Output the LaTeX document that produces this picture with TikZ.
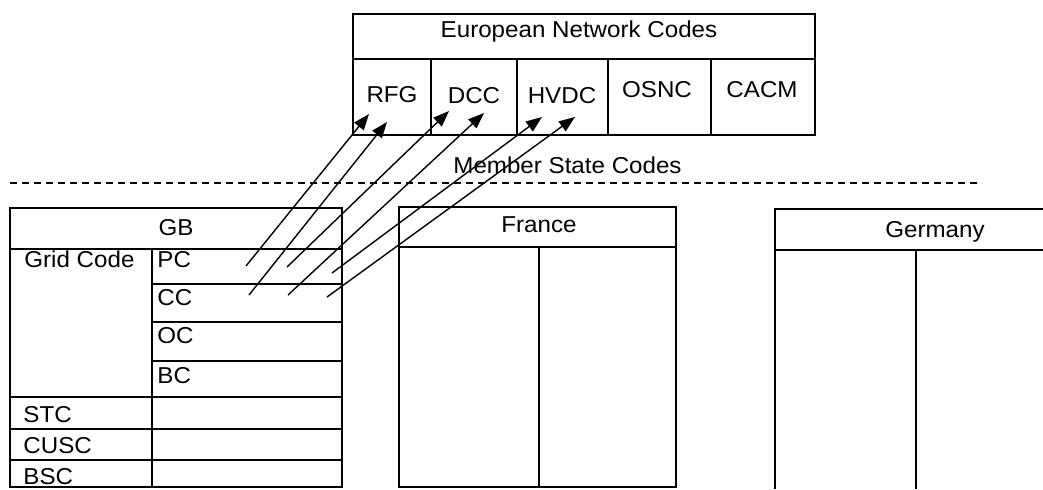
\documentclass[tikz,border=0pt]{standalone}
\usepackage{fontspec}
\setmainfont{Liberation Sans}[FakeStretch=1.05]
\usetikzlibrary{arrows.meta}
\tikzset{
  frame/.style={draw=black,line width=0.8pt},
  lbl/.style={inner sep=0pt,anchor=base,font=\fontsize{11.5}{13}\selectfont},
  lblw/.style={lbl,anchor=base west},
  link/.style={-{Triangle[length=8pt,width=6pt]},line width=0.7pt},
  split/.style={dash pattern=on 3.5pt off 2.5pt,line width=0.65pt}
}
\begin{document}
\begin{tikzpicture}[x=0.5pt,y=-0.5pt]
\path[use as bounding box,fill=white] (0,0) rectangle (1043,489);
% european network codes
\draw[frame] (353,14) rectangle (815,135);
\draw[frame] (353,59) -- (815,59);
\foreach \x in {431,517,608,711} \draw[frame] (\x,59) -- (\x,135);
\node[lbl] (enc) at (579,37) {European Network Codes};
\node[lbl] (rfg) at (392,102) {RFG};
\node[lbl] (dcc) at (474,103) {DCC};
\node[lbl] (hvdc) at (562,103) {HVDC};
\node[lbl] (osnc) at (657,97) {OSNC};
\node[lbl] (cacm) at (762,97) {CACM};
% member state codes
\node[lblw] (msc) at (453,173) {Member State Codes};
\draw[split] (10,183) -- (982,183);
% GB
\draw[frame] (10,208) rectangle (342,487);
\draw[frame] (10,249) -- (342,249);
\draw[frame] (152,249) -- (152,487);
\foreach \y in {284,322,361} \draw[frame] (152,\y) -- (342,\y);
\foreach \y in {397,429,460} \draw[frame] (10,\y) -- (342,\y);
\node[lbl] (gb) at (176,235) {GB};
\node[lblw] (grid) at (24,267) {Grid Code};
\node[lblw] (pc) at (157,267) {PC};
\node[lblw] (cc) at (157,305) {CC};
\node[lblw] (oc) at (157,343) {OC};
\node[lblw] (bc) at (157,383) {BC};
\node[lblw] (stc) at (23,422) {STC};
\node[lblw] (cusc) at (23,453) {CUSC};
\node[lblw] (bsc) at (23,484) {BSC};
% France
\draw[frame] (399,207) rectangle (676,487);
\draw[frame] (399,247) -- (676,247);
\draw[frame] (539,247) -- (539,487);
\node[lbl] (fr) at (539,232) {France};
% Germany
\draw[frame] (1043,209) -- (775,209) -- (775,489);
\draw[frame] (775,250) -- (1043,250);
\draw[frame] (916,250) -- (916,489);
\node[lbl] (de) at (935,237) {Germany};
% links
\coordinate (pc-a) at (246,266);
\coordinate (pc-b) at (287,267);
\coordinate (pc-c) at (332,273);
\coordinate (cc-a) at (249,295);
\coordinate (cc-b) at (288,295);
\coordinate (cc-c) at (327,297);
\coordinate (rfg-a) at (369,114);
\coordinate (rfg-b) at (387,122);
\coordinate (dcc-a) at (449,111);
\coordinate (dcc-b) at (484,113);
\coordinate (hvdc-a) at (542,117);
\coordinate (hvdc-b) at (575,117);
\draw[link] (pc-a) -- (rfg-a);
\draw[link] (cc-a) -- (rfg-b);
\draw[link] (pc-b) -- (dcc-a);
\draw[link] (cc-b) -- (dcc-b);
\draw[link] (pc-c) -- (hvdc-a);
\draw[link] (cc-c) -- (hvdc-b);
\end{tikzpicture}
\end{document}
